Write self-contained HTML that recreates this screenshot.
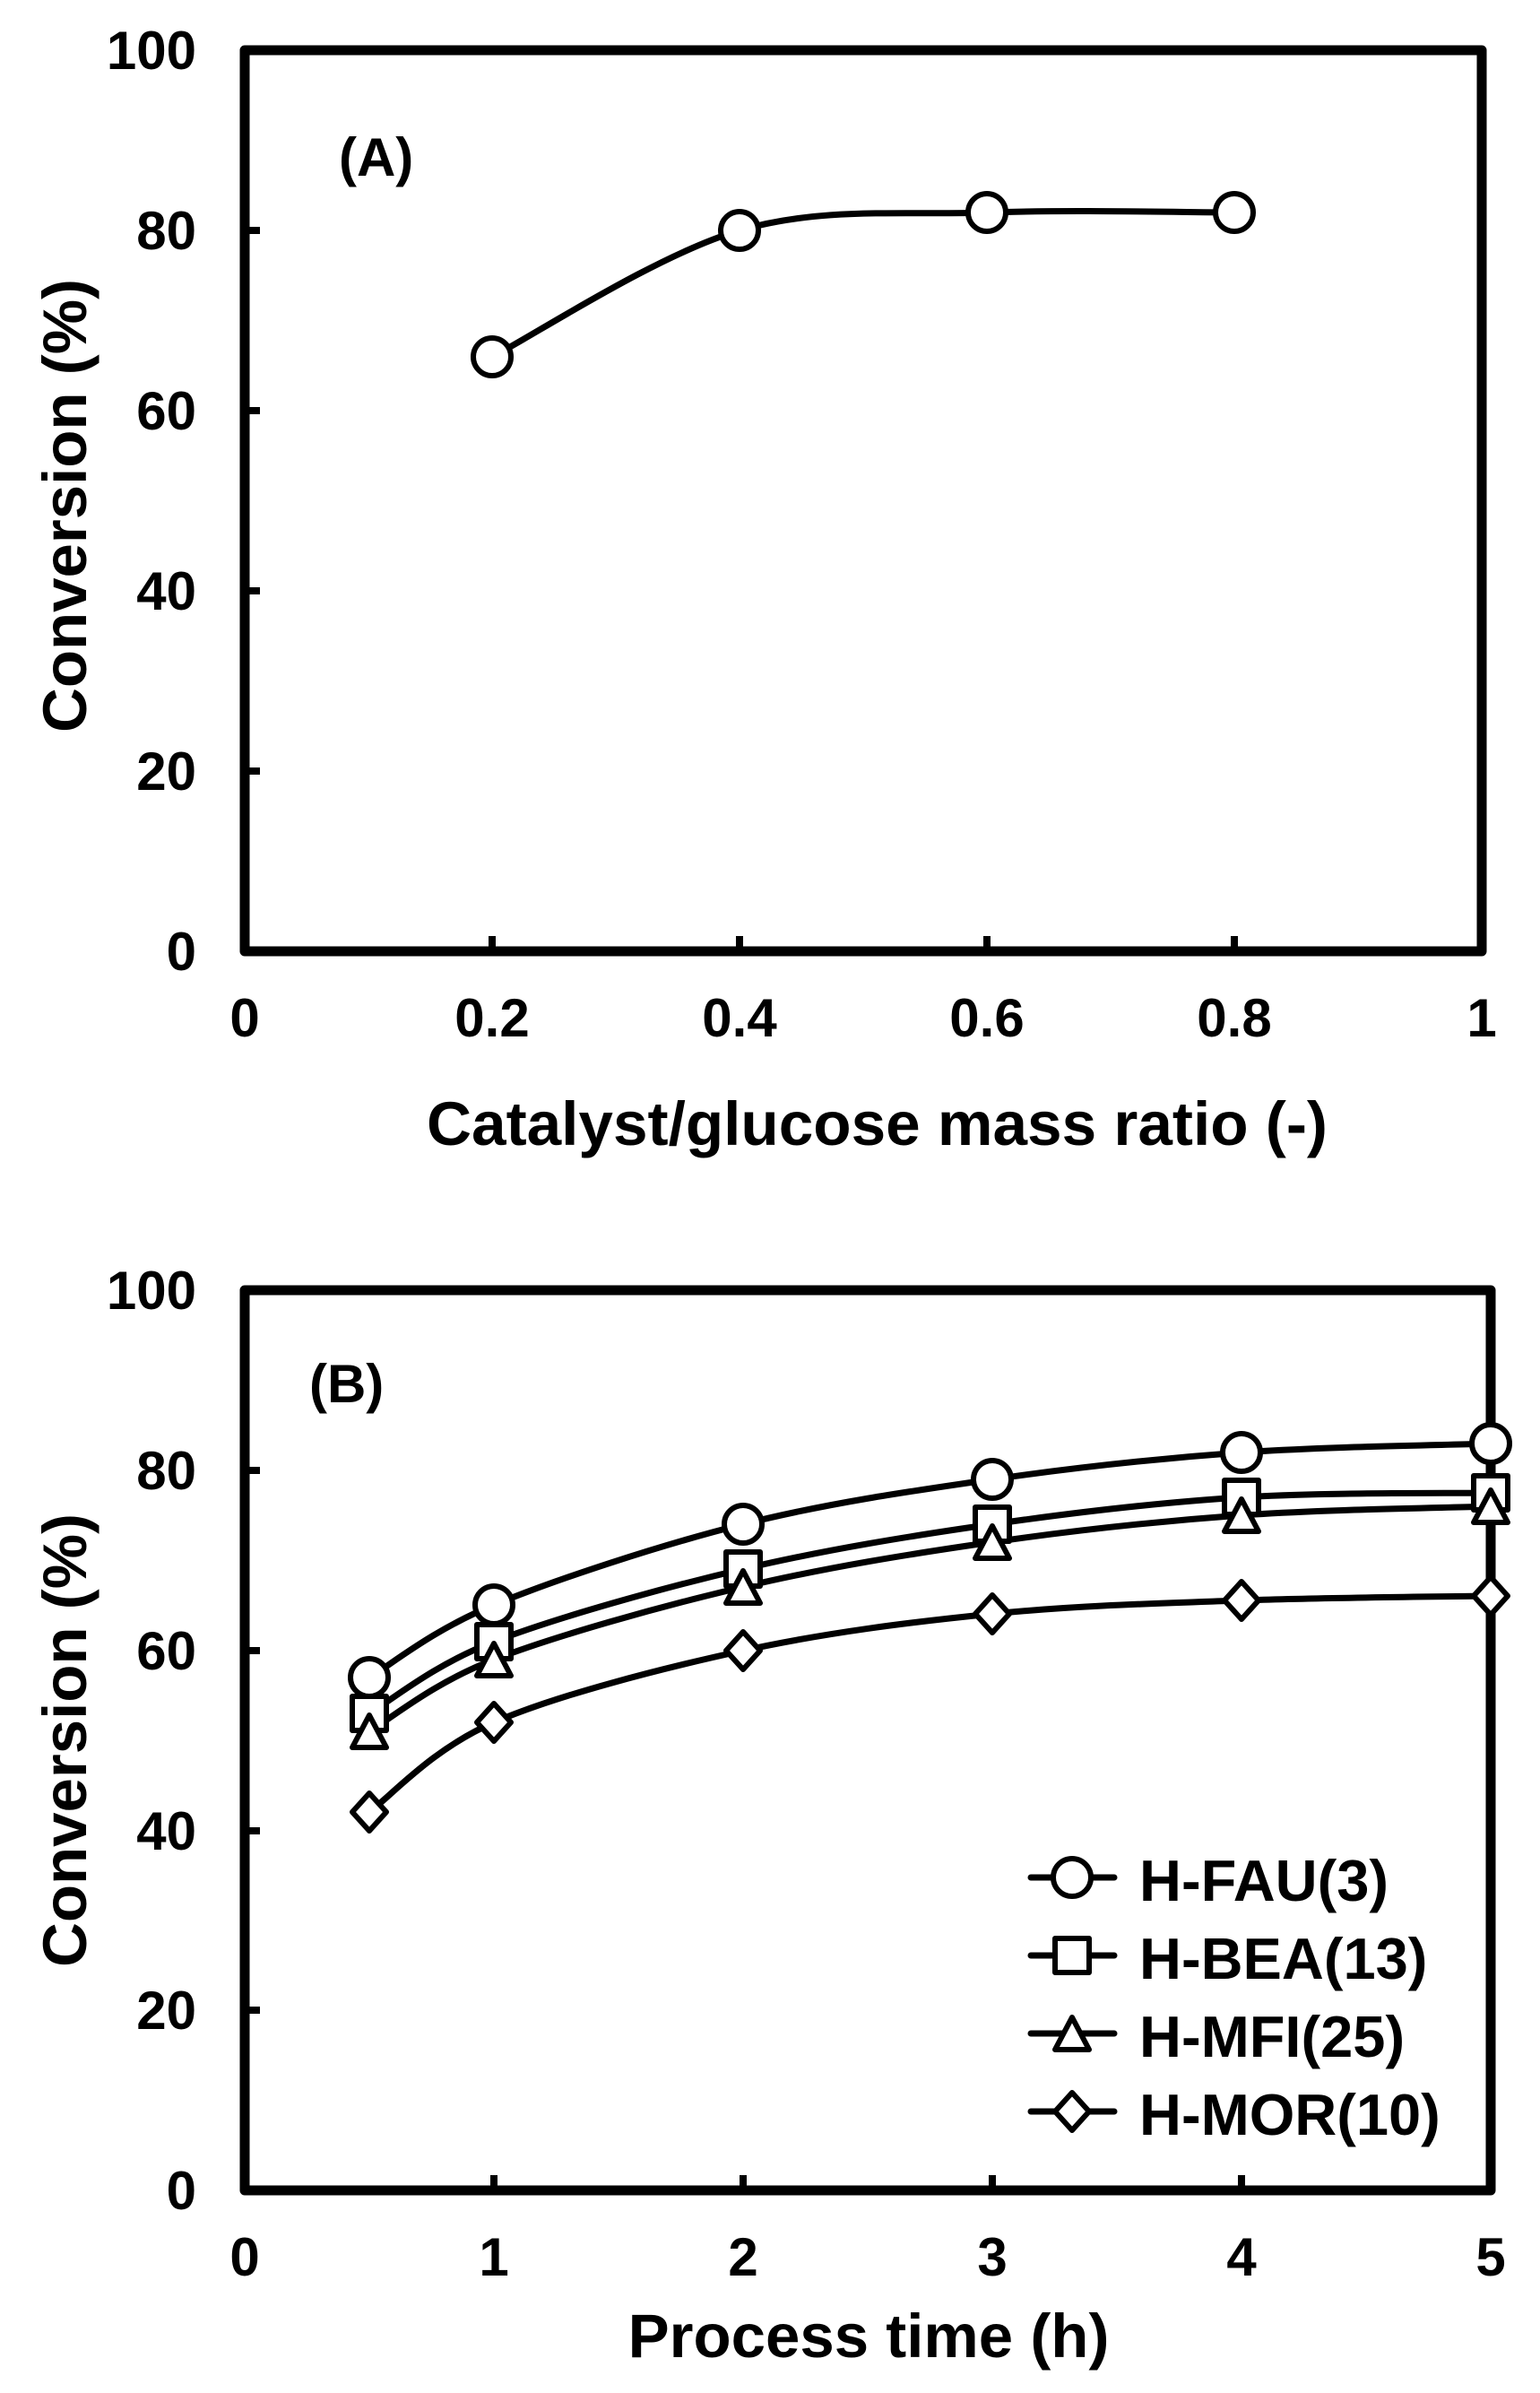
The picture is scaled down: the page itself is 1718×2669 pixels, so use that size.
<!DOCTYPE html>
<html><head><meta charset="utf-8"><style>
html,body{margin:0;padding:0;background:#fff}
svg{display:block}
text{font-family:"Liberation Sans",Arial,sans-serif;font-weight:bold;fill:#000}
</style></head><body>
<svg width="1718" height="2669" viewBox="0 0 1718 2669" xmlns="http://www.w3.org/2000/svg">
<rect width="1718" height="2669" fill="#fff"/>
<g stroke="#000" fill="none" stroke-linejoin="round">
<!-- Panel A frame -->
<rect x="273" y="56" width="1380" height="1005" stroke-width="11"/>
<path d="M549 1061v-17M825 1061v-17M1101 1061v-17M1377 1061v-17M273 860h17M273 659h17M273 458h17M273 257h17" stroke-width="8"/>
<!-- Panel B frame -->
<rect x="273" y="1439" width="1390" height="1004" stroke-width="11"/>
<path d="M551 2443v-17M829 2443v-17M1107 2443v-17M1385 2443v-17M273 2242h17M273 2042h17M273 1841h17M273 1640h17" stroke-width="8"/>
</g>
<g stroke="#000" fill="none" stroke-width="7" stroke-linecap="round">
<path d="M549 398C595 374.5 733 283.8 825 257C917 230.2 1009 240.3 1101 237C1193 233.7 1331 237 1377 237"/>
<path d="M412 1871C435.2 1857.5 481.5 1818.5 551 1790C620.5 1761.5 736.3 1723.3 829 1700C921.7 1676.7 1014.3 1663.3 1107 1650C1199.7 1636.7 1292.3 1626.7 1385 1620C1477.7 1613.3 1616.7 1611.7 1663 1610"/>
<path d="M412 1911C435.2 1897.7 481.5 1857.8 551 1831C620.5 1804.2 736.3 1771.8 829 1750C921.7 1728.2 1014.3 1713.3 1107 1700C1199.7 1686.7 1292.3 1675.8 1385 1670C1477.7 1664.2 1616.7 1665.8 1663 1665"/>
<path d="M412 1931C435.2 1917.7 481.5 1877.8 551 1851C620.5 1824.2 736.3 1791.8 829 1770C921.7 1748.2 1014.3 1733.3 1107 1720C1199.7 1706.7 1292.3 1696.7 1385 1690C1477.7 1683.3 1616.7 1681.7 1663 1680"/>
<path d="M412 2021C435.2 2004.3 481.5 1951 551 1921C620.5 1891 736.3 1861.2 829 1841C921.7 1820.8 1014.3 1809.3 1107 1800C1199.7 1790.7 1292.3 1788.3 1385 1785C1477.7 1781.7 1616.7 1780.8 1663 1780"/>
<!-- legend lines -->
<path d="M1150 2094h93M1150 2181h93M1150 2268h93M1150 2355h93"/>
</g>
<g stroke="#000" fill="#fff" stroke-width="6" stroke-linejoin="round">
<circle cx="549" cy="398" r="21"/><circle cx="825" cy="257" r="21"/><circle cx="1101" cy="237" r="21"/><circle cx="1377" cy="237" r="21"/>
<!-- FAU -->
<circle cx="412" cy="1871" r="21"/><circle cx="551" cy="1790" r="21"/><circle cx="829" cy="1700" r="21"/><circle cx="1107" cy="1650" r="21"/><circle cx="1385" cy="1620" r="21"/><circle cx="1663" cy="1610" r="21"/>
<!-- BEA -->
<rect x="393" y="1892" width="38" height="38"/><rect x="532" y="1812" width="38" height="38"/><rect x="810" y="1731" width="38" height="38"/><rect x="1088" y="1681" width="38" height="38"/><rect x="1366" y="1651" width="38" height="38"/><rect x="1644" y="1646" width="38" height="38"/>
<!-- MFI -->
<path d="M412 1913l19 36h-38zM551 1833l19 36h-38zM829 1752l19 36h-38zM1107 1702l19 36h-38zM1385 1672l19 36h-38zM1663 1662l19 36h-38z"/>
<!-- MOR -->
<path d="M412 2000l19 21-19 21-19-21zM551 1900l19 21-19 21-19-21zM829 1820l19 21-19 21-19-21zM1107 1779l19 21-19 21-19-21zM1385 1764l19 21-19 21-19-21zM1663 1759l19 21-19 21-19-21z"/>
<!-- legend markers -->
<circle cx="1196" cy="2094" r="21"/>
<rect x="1177" y="2162" width="38" height="38"/>
<path d="M1196 2250l19 36h-38z"/>
<path d="M1196 2334l19 21-19 21-19-21z"/>
</g>
<!-- Panel A text -->
<g font-size="60" text-anchor="end">
<text x="219" y="1082">0</text><text x="219" y="881">20</text><text x="219" y="680">40</text><text x="219" y="479">60</text><text x="219" y="278">80</text><text x="219" y="77">100</text>
<text x="219" y="2464">0</text><text x="219" y="2263">20</text><text x="219" y="2063">40</text><text x="219" y="1862">60</text><text x="219" y="1661">80</text><text x="219" y="1460">100</text>
</g>
<g font-size="60" text-anchor="middle">
<text x="273" y="1156">0</text><text x="549" y="1156">0.2</text><text x="825" y="1156">0.4</text><text x="1101" y="1156">0.6</text><text x="1377" y="1156">0.8</text><text x="1653" y="1156">1</text>
<text x="273" y="2538">0</text><text x="551" y="2538">1</text><text x="829" y="2538">2</text><text x="1107" y="2538">3</text><text x="1385" y="2538">4</text><text x="1663" y="2538">5</text>
</g>
<text x="378" y="196" font-size="60">(A)</text>
<text x="345" y="1564" font-size="60">(B)</text>
<text x="476" y="1277" font-size="69" textLength="1005" lengthAdjust="spacingAndGlyphs">Catalyst/glucose mass ratio (-)</text>
<text x="969" y="2629" font-size="69" text-anchor="middle">Process time (h)</text>
<text transform="translate(96,564) rotate(-90)" font-size="69" text-anchor="middle">Conversion (%)</text>
<text transform="translate(96,1941) rotate(-90)" font-size="69" text-anchor="middle">Conversion (%)</text>
<g font-size="65">
<text x="1271" y="2120">H-FAU(3)</text>
<text x="1271" y="2207">H-BEA(13)</text>
<text x="1271" y="2294">H-MFI(25)</text>
<text x="1271" y="2381">H-MOR(10)</text>
</g>
</svg>
</body></html>
